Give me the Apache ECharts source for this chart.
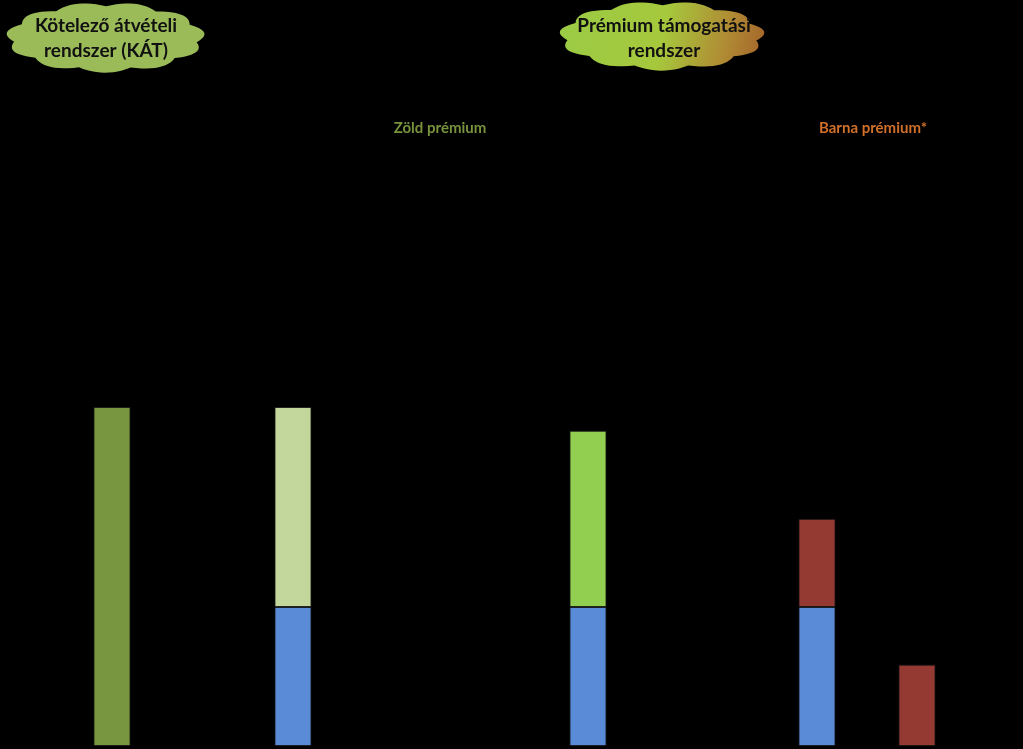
<!DOCTYPE html>
<html><head><meta charset="utf-8">
<script src="https://cdn.jsdelivr.net/npm/echarts@6/dist/echarts.min.js"></script>
<style>html,body{margin:0;padding:0;background:#000}#c{width:1023px;height:749px}</style>
</head><body><div id="c"></div>
<script>
const categories = ['KÁT', 'Zöld prémium (KÁT-ból)', 'Zöld prémium (új)', 'Barna prémium (A)', 'Barna prémium (B)'];
const katValues      = [100, 0, 0, 0, 0];
const marketValues   = [0, 41, 41, 41, 0];
const paleGreenValues = [0, 59, 0, 0, 0];
const greenValues    = [0, 0, 52, 0, 0];
const brownValues    = [0, 0, 0, 26, 24];
const titles = ['Kötelező átvételi\nrendszer (KÁT)', 'Prémium támogatási\nrendszer'];
const subTitles = ['Zöld prémium', 'Barna prémium*'];

const centers = [112, 293, 588, 817, 917];
const barW = 37;

const seriesDefs = [
  {name: 'KÁT', data: katValues, color: '#789640'},
  {name: 'Piaci ár', data: marketValues, color: '#5A8BD6'},
  {name: 'Zöld prémium (átlépő)', data: paleGreenValues, color: '#C3D69B'},
  {name: 'Zöld prémium', data: greenValues, color: '#92CF50'},
  {name: 'Barna prémium', data: brownValues, color: '#953A33'}
];

const grids = [], xAxes = [], yAxes = [], series = [];
categories.forEach((cat, i) => {
  grids.push({left: centers[i] - barW / 2, width: barW, top: 407, bottom: 3});
  xAxes.push({type: 'category', gridIndex: i, data: [cat], show: false});
  yAxes.push({type: 'value', gridIndex: i, min: 0, max: 100, show: false});
  seriesDefs.forEach(s => {
    if (s.data[i] > 0) {
      series.push({
        type: 'bar', name: s.name, xAxisIndex: i, yAxisIndex: i, stack: 'b' + i,
        barWidth: '100%', data: [s.data[i]],
        itemStyle: {color: s.color, borderColor: 'rgba(20,20,20,0.8)', borderWidth: 1},
        silent: true
      });
    }
  });
});

function cloudPoints(x0, y0, x1, y1, n) {
  const cx = (x0 + x1) / 2, cy = (y0 + y1) / 2;
  const rx = (x1 - x0) / 2 * 0.9, ry = (y1 - y0) / 2 * 0.93;
  const pts = [];
  for (let k = 0; k < n; k++) {
    const a = Math.PI * 2 * k / n + 0.15;
    pts.push([cx + rx * Math.cos(a), cy + ry * Math.sin(a)]);
  }
  const out = [];
  for (let k = 0; k < n; k++) {
    const p = pts[k], q = pts[(k + 1) % n];
    const ma = Math.PI * 2 * (k + 0.5) / n + 0.15;
    const o = [cx + rx * 1.2 * Math.cos(ma), cy + ry * 1.3 * Math.sin(ma)];
    for (let s = 0; s < 12; s++) {
      const t = s / 12, u = 1 - t;
      out.push([u * u * p[0] + 2 * u * t * o[0] + t * t * q[0], u * u * p[1] + 2 * u * t * o[1] + t * t * q[1]]);
    }
  }
  return out;
}

const font = 'Lato, "Noto Sans", sans-serif';
const graphic = [
  {type: 'polygon', shape: {points: cloudPoints(3, 4, 208, 71, 11)}, style: {fill: '#9BBB59'}, silent: true},
  {type: 'polygon', shape: {points: cloudPoints(556, 3, 768, 69, 11)},
   style: {fill: {type: 'linear', x: 0, y: 0.2, x2: 1, y2: 0.8, colorStops: [
     {offset: 0, color: '#9ACB45'}, {offset: 0.5, color: '#A6C83C'}, {offset: 0.8, color: '#B08C34'}, {offset: 1, color: '#A5642A'}]}}, silent: true},
  {type: 'text', x: 106, y: 13, style: {text: titles[0], textAlign: 'center', font: 'bold 19px ' + font, fill: '#111', lineHeight: 25}},
  {type: 'text', x: 664, y: 13, style: {text: titles[1], textAlign: 'center', font: 'bold 19px ' + font, fill: '#111', lineHeight: 25}},
  {type: 'text', x: 440, y: 121, style: {text: subTitles[0], textAlign: 'center', font: 'bold 15px ' + font, fill: '#77933C'}},
  {type: 'text', x: 873, y: 121, style: {text: subTitles[1], textAlign: 'center', font: 'bold 15px ' + font, fill: '#D0702A'}}
];

const chart = echarts.init(document.getElementById('c'));
chart.setOption({
  backgroundColor: '#000',
  animation: false,
  grid: grids, xAxis: xAxes, yAxis: yAxes, series: series,
  graphic: graphic
});
</script></body></html>
